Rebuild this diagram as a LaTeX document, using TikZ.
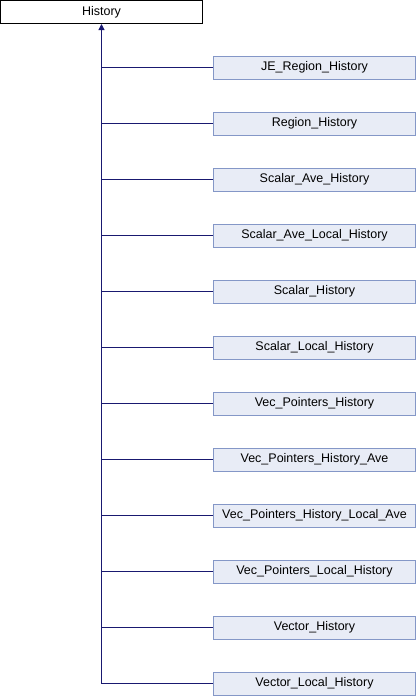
\documentclass[tikz,border=0pt]{standalone}
\usepackage{fontspec}
\setmainfont{Liberation Sans}
\usetikzlibrary{arrows.meta}
\definecolor{edgeblue}{HTML}{191970}
\definecolor{childborder}{HTML}{8497C7}
\definecolor{childfill}{HTML}{E8ECF6}
\tikzset{
  basebox/.style={draw=black, fill=white, line width=1pt, minimum width=202pt, minimum height=23pt, inner sep=0pt, font=\fontsize{12.5}{14}\selectfont},
  childbox/.style={draw=childborder, fill=childfill, line width=1pt, minimum width=202pt, minimum height=23pt, inner sep=0pt, font=\fontsize{12.5}{14}\selectfont},
  inherit/.style={draw=edgeblue, line width=1pt},
}
\begin{document}
\begin{tikzpicture}[x=1pt,y=-1pt]
\useasboundingbox (0,0) rectangle (416,696);
\node[basebox] (base) at (101.5,12) {History};
\coordinate (trunk) at (101.5,683.5);
\foreach \n [count=\i from 0] in {JE\_Region\_History,Region\_History,Scalar\_Ave\_History,Scalar\_Ave\_Local\_History,Scalar\_History,Scalar\_Local\_History,Vec\_Pointers\_History,Vec\_Pointers\_History\_Ave,Vec\_Pointers\_History\_Local\_Ave,Vec\_Pointers\_Local\_History,Vector\_History,Vector\_Local\_History}{
  \node[childbox] (c\i) at (314.5,{67.5+56*\i}) {\n};
  \coordinate (j\i) at (101.5,{67.5+56*\i});
  \draw[inherit] (c\i.west) -- (j\i);
}
\draw[inherit, -{Triangle[width=6pt,length=6pt]}] (trunk) -- (base.south);
\end{tikzpicture}
\end{document}
